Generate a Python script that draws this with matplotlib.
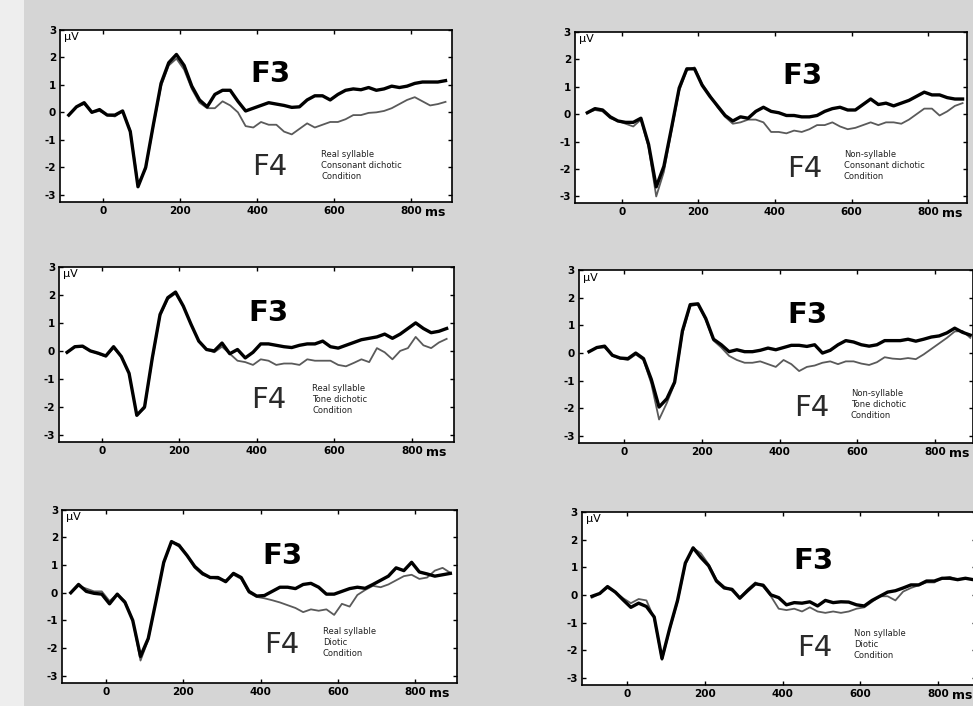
# imports
import numpy as np
import matplotlib.pyplot as plt
from matplotlib.patches import Rectangle

plt.rcParams['axes.unicode_minus'] = False

# time axis (ms), one sample every 20 ms
t_ms = np.arange(-90, 891, 20)

# Real syllable, consonant dichotic
rs_cons_f3 = [-0.1, 0.2, 0.35, 0.0, 0.1, -0.1, -0.1, 0.05, -0.7, -2.7, -2.0, -0.45, 1.05, 1.8, 2.1,
              1.7, 0.95, 0.45, 0.2, 0.65, 0.8, 0.8, 0.4, 0.05, 0.15, 0.25, 0.35, 0.3, 0.25, 0.18,
              0.2, 0.45, 0.6, 0.6, 0.45, 0.65, 0.8, 0.85, 0.82, 0.9, 0.8, 0.85, 0.95, 0.9, 0.95,
              1.05, 1.1, 1.1, 1.1, 1.15]
rs_cons_f4 = [-0.1, 0.2, 0.3, 0.0, 0.05, -0.1, -0.15, 0.05, -0.65, -2.6, -2.05, -0.5, 0.95, 1.7, 1.95,
              1.55, 0.85, 0.35, 0.15, 0.15, 0.4, 0.25, 0.0, -0.5, -0.55, -0.35, -0.45, -0.45, -0.7, -0.8,
              -0.6, -0.4, -0.55, -0.45, -0.35, -0.35, -0.25, -0.1, -0.1, -0.02, 0.0, 0.05, 0.15, 0.3, 0.45,
              0.55, 0.4, 0.25, 0.3, 0.38]

# Non-syllable, consonant dichotic
ns_cons_f3 = [0.05, 0.2, 0.15, -0.1, -0.25, -0.3, -0.3, -0.15, -1.1, -2.65, -1.9, -0.5, 0.95, 1.65, 1.65,
              1.05, 0.65, 0.3, -0.05, -0.25, -0.1, -0.15, 0.1, 0.25, 0.1, 0.05, -0.05, -0.05, -0.1, -0.1,
              -0.05, 0.1, 0.2, 0.25, 0.15, 0.15, 0.35, 0.55, 0.35, 0.4, 0.3, 0.4, 0.5, 0.65, 0.8,
              0.7, 0.7, 0.6, 0.55, 0.55]
ns_cons_f4 = [0.05, 0.15, 0.1, -0.15, -0.25, -0.35, -0.45, -0.2, -1.2, -3.0, -2.1, -0.6, 0.85, 1.6, 1.7,
              1.1, 0.7, 0.25, -0.1, -0.35, -0.3, -0.2, -0.2, -0.3, -0.65, -0.65, -0.7, -0.6, -0.65, -0.55,
              -0.4, -0.4, -0.3, -0.45, -0.55, -0.5, -0.4, -0.3, -0.4, -0.3, -0.3, -0.35, -0.2, 0.0, 0.2,
              0.2, -0.05, 0.1, 0.3, 0.4]

# Real syllable, tone dichotic
rs_tone_f3 = [-0.05, 0.15, 0.17, 0.0, -0.08, -0.18, 0.15, -0.2, -0.8, -2.3, -2.0, -0.25, 1.3, 1.9, 2.1,
              1.6, 0.95, 0.35, 0.05, 0.0, 0.28, -0.1, 0.05, -0.25, -0.05, 0.25, 0.25, 0.2, 0.15, 0.12,
              0.2, 0.25, 0.25, 0.35, 0.15, 0.1, 0.2, 0.3, 0.4, 0.45, 0.5, 0.6, 0.45, 0.6, 0.8,
              1.0, 0.8, 0.65, 0.7, 0.8]
rs_tone_f4 = [-0.05, 0.15, 0.15, 0.0, -0.1, -0.2, 0.1, -0.2, -0.8, -2.3, -2.05, -0.3, 1.25, 1.85, 2.05,
              1.6, 0.95, 0.35, 0.05, -0.05, 0.15, -0.1, -0.35, -0.4, -0.5, -0.3, -0.35, -0.5, -0.45, -0.45,
              -0.5, -0.3, -0.35, -0.35, -0.35, -0.5, -0.55, -0.43, -0.3, -0.4, 0.1, -0.05, -0.3, 0.0, 0.1,
              0.5, 0.2, 0.1, 0.3, 0.43]

# Non-syllable, tone dichotic
ns_tone_f3 = [0.05, 0.2, 0.25, -0.08, -0.18, -0.2, 0.0, -0.2, -0.95, -1.95, -1.65, -1.05, 0.8, 1.75, 1.78,
              1.25, 0.5, 0.3, 0.05, 0.12, 0.05, 0.05, 0.1, 0.18, 0.12, 0.2, 0.28, 0.28, 0.24, 0.3,
              0.0, 0.1, 0.3, 0.45, 0.4, 0.3, 0.25, 0.3, 0.45, 0.45, 0.45, 0.5, 0.43, 0.5, 0.58,
              0.62, 0.73, 0.9, 0.75, 0.65]
ns_tone_f4 = [0.05, 0.2, 0.2, -0.1, -0.2, -0.25, -0.05, -0.25, -1.1, -2.4, -1.8, -1.1, 0.7, 1.7, 1.75,
              1.2, 0.45, 0.2, -0.1, -0.25, -0.35, -0.35, -0.3, -0.4, -0.5, -0.25, -0.4, -0.65, -0.5, -0.45,
              -0.35, -0.3, -0.4, -0.3, -0.3, -0.38, -0.43, -0.33, -0.15, -0.2, -0.22, -0.18, -0.22, -0.05, 0.15,
              0.35, 0.55, 0.78, 0.8, 0.55]

# Real syllable, diotic
rs_dio_f3 = [0.0, 0.3, 0.05, -0.02, -0.05, -0.4, -0.05, -0.35, -1.0, -2.3, -1.65, -0.3, 1.1, 1.85, 1.7,
             1.35, 0.95, 0.7, 0.55, 0.55, 0.4, 0.7, 0.55, 0.05, -0.12, -0.1, 0.05, 0.2, 0.2, 0.15,
             0.3, 0.34, 0.2, -0.05, -0.05, 0.05, 0.15, 0.2, 0.16, 0.3, 0.45, 0.6, 0.9, 0.8, 1.1,
             0.75, 0.68, 0.6, 0.65, 0.7]
rs_dio_f4 = [0.0, 0.25, 0.15, 0.05, 0.05, -0.3, -0.05, -0.3, -1.0, -2.45, -1.7, -0.3, 1.05, 1.85, 1.75,
             1.35, 0.9, 0.65, 0.55, 0.5, 0.45, 0.65, 0.5, 0.0, -0.15, -0.2, -0.27, -0.35, -0.45, -0.55,
             -0.7, -0.6, -0.65, -0.6, -0.8, -0.4, -0.5, -0.08, 0.1, 0.25, 0.2, 0.3, 0.45, 0.6, 0.65,
             0.5, 0.55, 0.8, 0.9, 0.72]

# Non-syllable, diotic
ns_dio_f3 = [-0.05, 0.05, 0.3, 0.1, -0.18, -0.45, -0.3, -0.42, -0.8, -2.3, -1.2, -0.2, 1.15, 1.7, 1.35,
             1.05, 0.5, 0.25, 0.2, -0.12, 0.15, 0.4, 0.35, 0.0, -0.1, -0.36, -0.28, -0.3, -0.25, -0.4,
             -0.2, -0.28, -0.25, -0.26, -0.36, -0.4, -0.2, -0.05, 0.1, 0.15, 0.25, 0.36, 0.36, 0.5, 0.5,
             0.6, 0.6, 0.55, 0.6, 0.55]
ns_dio_f4 = [-0.1, 0.05, 0.25, 0.1, -0.12, -0.3, -0.15, -0.2, -0.85, -2.35, -1.25, -0.25, 1.1, 1.7, 1.5,
             1.1, 0.55, 0.3, 0.15, -0.1, 0.2, 0.45, 0.3, -0.05, -0.5, -0.55, -0.5, -0.6, -0.45, -0.6,
             -0.65, -0.6, -0.65, -0.6, -0.5, -0.45, -0.25, -0.05, -0.05, -0.2, 0.12, 0.25, 0.35, 0.45, 0.45,
             0.6, 0.65, 0.55, 0.6, 0.55]

x_ticks = [0, 200, 400, 600, 800]
y_ticks = [-3, -2, -1, 0, 1, 2, 3]

# one entry per panel: F3, F4, condition text, axes rect, xlim, text spots
panels = [
    (rs_cons_f3, rs_cons_f4, "Real syllable\nConsonant dichotic\nCondition",
     [0.062, 0.714, 0.403, 0.244], (-112, 908), (0.535, 0.745), (0.535, 0.20), (0.665, 0.30)),
    (ns_cons_f3, ns_cons_f4, "Non-syllable\nConsonant dichotic\nCondition",
     [0.591, 0.712, 0.403, 0.243], (-122, 902), (0.58, 0.745), (0.585, 0.20), (0.685, 0.31)),
    (rs_tone_f3, rs_tone_f4, "Real syllable\nTone dichotic\nCondition",
     [0.061, 0.374, 0.406, 0.248], (-110, 910), (0.53, 0.735), (0.53, 0.24), (0.64, 0.33)),
    (ns_tone_f3, ns_tone_f4, "Non-syllable\nTone dichotic\nCondition",
     [0.595, 0.3725, 0.405, 0.245], (-116, 897), (0.58, 0.74), (0.59, 0.20), (0.69, 0.31)),
    (rs_dio_f3, rs_dio_f4, "Real syllable\nDiotic\nCondition",
     [0.064, 0.033, 0.406, 0.245], (-112, 908), (0.557, 0.73), (0.555, 0.22), (0.66, 0.32)),
    (ns_dio_f3, ns_dio_f4, "Non syllable\nDiotic\nCondition",
     [0.598, 0.030, 0.405, 0.245], (-116, 897), (0.588, 0.715), (0.59, 0.21), (0.69, 0.32)),
]


def draw_panel(fig, f3, f4, cond, rect, xlim, f3_pos, f4_pos, cond_pos):
    ax = fig.add_axes(rect)
    ax.set_facecolor("white")
    ax.plot(t_ms, f4, color="#5a5a5a", lw=1.3)
    ax.plot(t_ms, f3, color="black", lw=2.4)
    ax.set_xlim(*xlim)
    ax.set_ylim(-3.25, 3.0)
    ax.set_xticks(x_ticks)
    ax.set_yticks(y_ticks)
    ax.tick_params(direction="in", length=3, width=1, top=True, right=True,
                   labelsize=7.5, pad=3)
    for lab in ax.get_xticklabels() + ax.get_yticklabels():
        lab.set_fontweight("bold")
    for sp in ax.spines.values():
        sp.set_linewidth(1.2)
    ax.text(0.01, 0.985, "µV", transform=ax.transAxes, fontsize=8, va="top", ha="left")
    ax.text(*f3_pos, "F3", transform=ax.transAxes, fontsize=21, fontweight="bold",
            ha="center", va="center")
    ax.text(*f4_pos, "F4", transform=ax.transAxes, fontsize=21, color="#2a2a2a",
            ha="center", va="center")
    ax.text(*cond_pos, cond, transform=ax.transAxes, fontsize=6, color="#222222",
            ha="left", va="top", linespacing=1.25)
    # unit right after the last tick label, on the same line
    trans, va, ha = ax.get_xaxis_text1_transform(3)
    ax.text(836, 0, "ms", transform=trans, fontsize=9, fontweight="bold",
            ha="left", va="top")
    return ax


if __name__ == "__main__":
    fig = plt.figure(figsize=(9.73, 7.06), dpi=100)
    fig.patch.set_facecolor("#d5d5d5")
    # lighter strip at the left edge of the scan
    fig.patches.append(Rectangle((0, 0), 0.025, 1, transform=fig.transFigure,
                                 facecolor="#eeeeee", edgecolor="none", zorder=0))
    for f3, f4, cond, rect, xlim, p3, p4, pc in panels:
        draw_panel(fig, f3, f4, cond, rect, xlim, p3, p4, pc)
    fig.savefig("out.png", dpi=100, facecolor=fig.get_facecolor())
